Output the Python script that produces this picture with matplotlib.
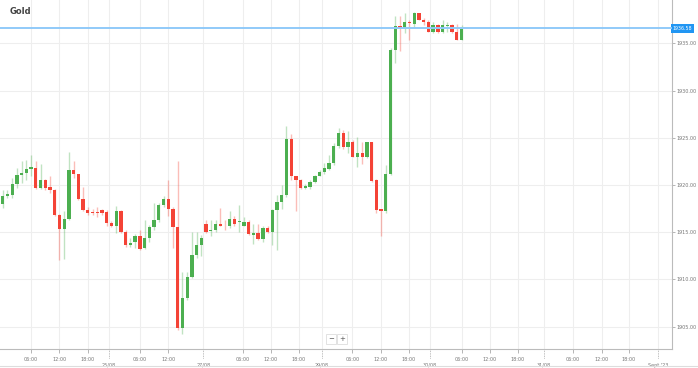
import matplotlib
matplotlib.use('Agg')
import matplotlib.pyplot as plt
import numpy as np

# hourly candles
opens = [1918.0, 1918.8, 1918.9, 1920.1, 1921.1, 1921.3, 1921.7, 1921.8, 1919.7, 1920.5,
         1919.8, 1919.5, 1916.8, 1915.3, 1916.4, 1921.6, 1921.2, 1918.5, 1917.3, 1917.1,
         1917.1, 1917.3, 1917.1, 1916.0, 1915.6, 1917.2, 1915.0, 1913.6, 1914.0, 1914.6,
         1913.3, 1914.4, 1915.5, 1916.3, 1917.9, 1918.5, 1917.5, 1915.5, 1904.8, 1908.0,
         1910.3, 1912.6, 1913.6, 1915.9, 1915.1, 1915.2, 1915.9, 1915.7, 1915.6, 1916.4,
         1916.1, 1915.7, 1916.1, 1914.7, 1914.9, 1914.3, 1915.4, 1915.0, 1917.3, 1918.2,
         1918.9, 1924.9, 1920.9, 1920.5, 1919.7, 1919.8, 1920.3, 1920.9, 1921.4, 1921.7,
         1922.3, 1924.1, 1925.5, 1924.0, 1924.6, 1923.0, 1923.4, 1923.0, 1924.5, 1920.5,
         1917.4, 1917.2, 1921.2, 1934.3, 1936.8, 1936.6, 1937.3, 1937.1, 1938.2, 1937.5,
         1937.3, 1936.2, 1936.9, 1936.2, 1936.8, 1936.9, 1936.2, 1935.4]
highs = [1919.5, 1919.5, 1920.7, 1921.8, 1922.5, 1922.6, 1923.2, 1922.5, 1922.2, 1920.6,
         1920.9, 1919.6, 1916.9, 1917.2, 1923.5, 1922.5, 1921.2, 1919.8, 1917.7, 1917.5,
         1917.7, 1917.5, 1917.3, 1916.2, 1917.8, 1917.3, 1915.2, 1914.4, 1914.8, 1915.2,
         1916.3, 1915.8, 1918.1, 1918.1, 1918.8, 1920.5, 1917.7, 1922.5, 1910.8, 1910.8,
         1915.0, 1915.0, 1914.7, 1916.3, 1916.3, 1916.3, 1917.6, 1916.3, 1917.2, 1916.7,
         1917.9, 1916.6, 1916.3, 1915.9, 1915.9, 1915.6, 1915.6, 1917.5, 1918.9, 1920.0,
         1926.2, 1925.4, 1920.9, 1920.6, 1920.1, 1920.5, 1921.0, 1921.6, 1922.3, 1923.2,
         1924.4, 1926.0, 1925.8, 1925.7, 1924.8, 1925.1, 1924.5, 1924.6, 1924.6, 1920.6,
         1917.4, 1922.1, 1934.5, 1937.9, 1937.9, 1938.2, 1937.5, 1938.3, 1938.2, 1937.7,
         1937.5, 1937.3, 1937.0, 1937.5, 1937.3, 1937.1, 1937.0, 1936.9]
lows = [1917.6, 1918.6, 1918.6, 1919.7, 1920.2, 1920.5, 1920.9, 1919.6, 1919.6, 1919.5,
        1919.1, 1916.7, 1912.0, 1912.2, 1916.3, 1920.7, 1918.4, 1917.2, 1916.8, 1916.8,
        1916.6, 1916.8, 1915.7, 1915.5, 1914.9, 1914.9, 1913.4, 1913.4, 1913.3, 1913.1,
        1913.2, 1914.0, 1915.2, 1916.1, 1917.7, 1916.7, 1913.3, 1904.6, 1904.2, 1907.8,
        1910.1, 1912.3, 1912.5, 1914.9, 1914.6, 1915.0, 1915.6, 1915.2, 1915.4, 1915.7,
        1915.0, 1915.6, 1914.7, 1913.7, 1914.2, 1914.0, 1914.9, 1913.6, 1913.1, 1917.5,
        1918.7, 1920.5, 1917.2, 1919.6, 1919.6, 1919.6, 1920.2, 1920.9, 1921.2, 1921.6,
        1922.1, 1923.9, 1923.8, 1923.4, 1923.0, 1921.9, 1922.2, 1922.9, 1920.3, 1917.0,
        1914.6, 1917.0, 1921.0, 1932.9, 1934.2, 1936.1, 1935.3, 1936.6, 1937.5, 1936.9,
        1936.2, 1936.1, 1936.1, 1936.1, 1936.2, 1936.1, 1935.3, 1935.3]
closes = [1918.8, 1919.0, 1920.1, 1921.1, 1921.3, 1921.7, 1921.9, 1919.7, 1920.5, 1919.7,
          1919.5, 1916.8, 1915.3, 1916.4, 1921.6, 1921.2, 1918.5, 1917.3, 1917.0, 1917.0,
          1917.0, 1917.0, 1916.0, 1915.7, 1917.2, 1915.0, 1913.6, 1913.9, 1914.6, 1913.2,
          1914.4, 1915.5, 1916.3, 1917.9, 1918.5, 1917.5, 1915.5, 1904.8, 1908.0, 1910.3,
          1912.6, 1913.6, 1914.4, 1915.0, 1915.2, 1915.9, 1915.7, 1915.6, 1916.4, 1915.9,
          1916.2, 1916.1, 1914.8, 1914.9, 1914.3, 1915.4, 1915.0, 1917.3, 1918.2, 1918.9,
          1924.9, 1920.9, 1920.5, 1919.7, 1919.9, 1920.3, 1920.9, 1921.4, 1921.8, 1922.3,
          1924.1, 1925.5, 1924.0, 1924.6, 1923.0, 1923.4, 1923.0, 1924.5, 1920.4, 1917.3,
          1917.2, 1921.2, 1934.3, 1936.8, 1936.6, 1937.3, 1937.2, 1938.2, 1937.5, 1937.3,
          1936.2, 1936.9, 1936.2, 1936.9, 1936.9, 1936.2, 1935.4, 1936.5]
last_price = 1936.58

# axis ticks (positions in candle slots)
time_pos = [6.0, 12.0, 18.0, 29.0, 35.0, 50.8, 56.7, 62.6, 73.9, 79.9, 85.9,
            97.1, 103.0, 108.9, 120.6, 126.7, 132.4]
time_lab = ['06:00', '12:00', '18:00', '06:00', '12:00', '06:00', '12:00', '18:00',
            '06:00', '12:00', '18:00', '06:00', '12:00', '18:00', '06:00', '12:00', '18:00']
date_pos = [22.5, 42.4, 67.5, 90.3, 114.4, 138.5]
date_lab = ['25/08', '27/08', '29/08', '30/08', '31/08', "Sept '23"]
price_ticks = [1905, 1910, 1915, 1920, 1925, 1930, 1935]

green = '#4caf50'
red = '#f44336'
txt = '#777777'

fig = plt.figure(figsize=(6.98, 3.68), dpi=100)
ax = fig.add_axes([0, 19 / 368, 672 / 698, 349 / 368])

x = np.arange(len(opens))
o = np.array(opens)
cl = np.array(closes)
up = cl >= o
cols = np.where(up, green, red)

ax.vlines(x, lows, highs, colors=cols, linewidth=1, alpha=0.35, zorder=2)
body = np.maximum(np.abs(cl - o), 0.1)
ax.bar(x, body, bottom=np.minimum(o, cl), width=0.7, color=cols, linewidth=0, zorder=3)

ax.axhline(last_price, color='#90caf9', linewidth=1.4, zorder=4)

ax.set_xlim(-0.57, 141.5)
ax.set_ylim(1902.62, 1939.59)

ax.set_xticks(time_pos)
ax.set_xticklabels(time_lab)
ax.set_xticks(date_pos, minor=True)
ax.set_xticklabels(date_lab, minor=True)
ax.tick_params(axis='x', which='major', length=3, width=0.6, color='#aaaaaa',
               labelsize=3.5, labelcolor=txt, pad=2.5)
ax.tick_params(axis='x', which='minor', length=0, labelsize=3.5, labelcolor=txt, pad=10)
for p in date_pos:
    ax.plot([p, p], [0, -0.03], transform=ax.get_xaxis_transform(), clip_on=False,
            color='#aaaaaa', linewidth=0.6, linestyle=(0, (1, 1)))

ax.yaxis.tick_right()
ax.set_yticks(price_ticks)
ax.set_yticklabels([f'{v:.2f}' for v in price_ticks])
ax.tick_params(axis='y', length=2, width=0.6, color='#aaaaaa', labelsize=3.5,
               labelcolor=txt, pad=1.5)

ax.grid(True, which='both', color='#eeeeee', linewidth=0.8, zorder=0)
ax.set_axisbelow(True)
for s in ['top', 'left']:
    ax.spines[s].set_visible(False)
for s in ['right', 'bottom']:
    ax.spines[s].set_color('#bbbbbb')
    ax.spines[s].set_linewidth(0.8)

# current price tag
ax.text(1.001, last_price, f'{last_price:.2f}', transform=ax.get_yaxis_transform(),
        ha='left', va='center', fontsize=3.4, color='white', clip_on=False,
        bbox=dict(boxstyle='square,pad=0.35', facecolor='#2196f3', edgecolor='none'))

fig.text(10 / 698, 1 - 11 / 368, 'Gold', fontsize=6, fontweight='bold', color='#444444',
         ha='left', va='center')

# zoom buttons
for xp, s in [(331, '\u2212'), (342, '+')]:
    fig.text(xp / 698, 1 - 339 / 368, s, fontsize=5, color='#555555', ha='center', va='center',
             bbox=dict(boxstyle='square,pad=0.3', facecolor='white', edgecolor='#dddddd',
                       linewidth=0.6))

fig.add_artist(plt.Line2D([0, 1], [2 / 368, 2 / 368], color='#dddddd', linewidth=0.8))

fig.savefig('out.png', dpi=100)
